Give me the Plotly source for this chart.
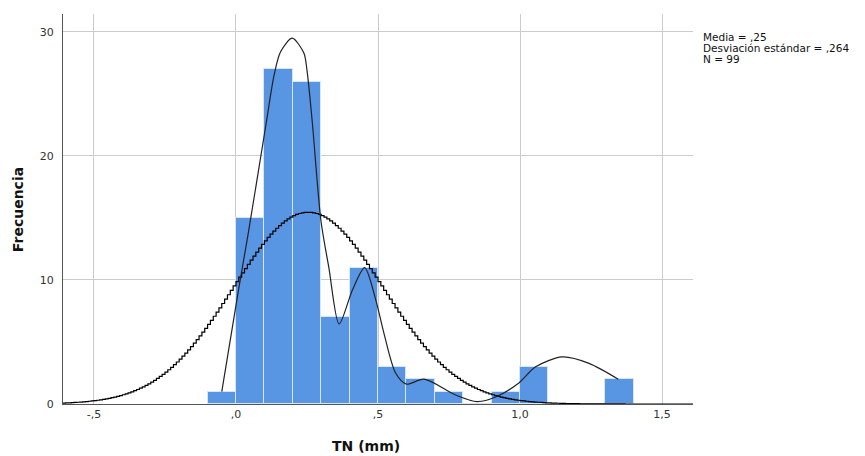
import numpy as np
import plotly.graph_objects as go

# Histogram bins (left edges) and counts
bin_left = [-0.1, 0.0, 0.1, 0.2, 0.3, 0.4, 0.5, 0.6, 0.7, 0.8, 0.9, 1.0, 1.1, 1.2, 1.3]
counts = [1, 15, 27, 26, 7, 11, 3, 2, 1, 0, 1, 3, 0, 0, 2]
bin_width = 0.1

# Summary statistics (from the legend)
mean_val = 0.25
sd_val = 0.264
n_val = 99
normal_peak = 15.46  # peak height of the fitted normal curve as drawn

# Smoothed density curve
kde_x = [-0.05, 0.01, 0.042, 0.106, 0.134, 0.157, 0.198, 0.239, 0.25, 0.268, 0.299, 0.327,
         0.363, 0.41, 0.453, 0.492, 0.521, 0.562, 0.6, 0.662, 0.773, 0.849, 0.914, 0.996,
         1.055, 1.149, 1.243, 1.346]
kde_y = [1.0, 9.35, 13.6, 22.6, 26.5, 28.4, 29.5, 28.3, 26.9, 22.9, 14.8, 11.0,
         6.45, 9.2, 11.0, 8.4, 5.7, 2.5, 1.6, 2.0, 0.73, 0.19, 0.56, 1.7,
         3.0, 3.8, 3.28, 2.0]

# Tick labels (Spanish decimal style)
xtick_vals = [-0.5, 0.0, 0.5, 1.0, 1.5]
xtick_text = ["-,5", ",0", ",5", "1,0", "1,5"]
ytick_vals = [0, 10, 20, 30]
ytick_text = ["0", "10", "20", "30"]

legend_lines = ["Media = ,25", "Desviación estándar = ,264", "N = 99"]

bar_centers = [b + bin_width / 2 for b in bin_left]

# Normal curve drawn as fine staircase
nx = np.arange(-0.61, 1.615, 0.01)
ny = normal_peak * np.exp(-0.5 * ((nx - mean_val) / sd_val) ** 2)

fig = go.Figure()
fig.add_trace(go.Bar(
    x=bar_centers, y=counts, width=bin_width,
    marker=dict(color="rgb(88,149,227)", line=dict(color="#d6e5f8", width=1)),
    hoverinfo="x+y", showlegend=False,
))
fig.add_trace(go.Scatter(
    x=nx, y=ny, mode="lines", line=dict(color="black", width=1.2, shape="hv"),
    showlegend=False,
))
fig.add_trace(go.Scatter(
    x=kde_x, y=kde_y, mode="lines", line=dict(color="#222222", width=1.2, shape="spline", smoothing=0.8),
    showlegend=False,
))

font_fam = "DejaVu Sans, Verdana, sans-serif"

fig.update_layout(
    width=865, height=456,
    margin=dict(l=63, r=172, t=14, b=52),
    paper_bgcolor="white", plot_bgcolor="white",
    bargap=0,
    font=dict(family=font_fam, size=11, color="#333333"),
    xaxis=dict(
        range=[-0.609, 1.609], tickvals=xtick_vals, ticktext=xtick_text,
        showgrid=True, gridcolor="#cccccc", gridwidth=1,
        showline=True, linecolor="#555555", linewidth=1,
        ticks="", zeroline=False, tickfont=dict(size=11, color="#333333"),
    ),
    yaxis=dict(
        range=[0, 31.45], tickvals=ytick_vals, ticktext=ytick_text,
        showgrid=True, gridcolor="#cccccc", gridwidth=1,
        showline=True, linecolor="#555555", linewidth=1,
        ticks="", zeroline=False, tickfont=dict(size=11, color="#333333"),
        ticklabelstandoff=6,
    ),
)

annotations = [
    dict(text="<b>TN (mm)</b>", x=0.481, y=-0.108, xref="paper", yref="paper",
         showarrow=False, xanchor="center", yanchor="middle",
         font=dict(size=14, color="#111111", family=font_fam)),
    dict(text="<b>Frecuencia</b>", x=-0.0714, y=0.497, xref="paper", yref="paper",
         showarrow=False, xanchor="center", yanchor="middle", textangle=-90,
         font=dict(size=14, color="#111111", family=font_fam)),
]
for i, line in enumerate(legend_lines):
    annotations.append(dict(
        text=line, x=1.0143, y=0.941 - i * 0.0285, xref="paper", yref="paper",
        showarrow=False, xanchor="left", yanchor="middle", borderpad=0,
        font=dict(size=10.5, color="#111111", family=font_fam),
    ))
fig.update_layout(annotations=annotations)

fig.write_html("out.html")
